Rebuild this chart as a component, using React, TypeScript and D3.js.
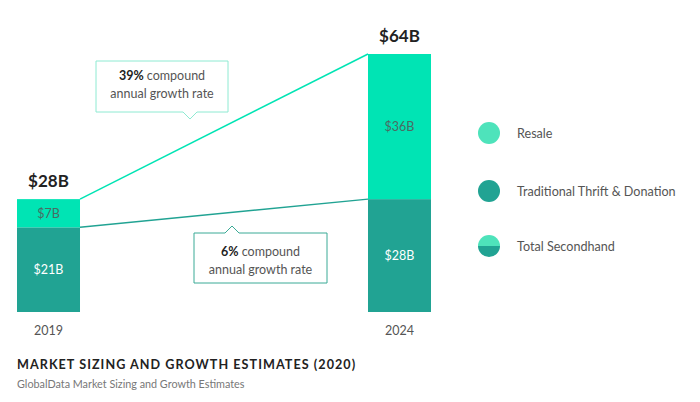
import React from "react";
import * as d3 from "d3";

const years = ["2019", "2024"];
const resale = [7, 36];
const thrift = [21, 28];
const totals = [28, 64];
const totalLabels = ["$28B", "$64B"];
const resaleLabels = ["$7B", "$36B"];
const thriftLabels = ["$21B", "$28B"];
const cagrPct = ["39%", "6%"];
const legendItems = ["Resale", "Traditional Thrift & Donation", "Total Secondhand"];
const title = "MARKET SIZING AND GROWTH ESTIMATES (2020)";
const subtitle = "GlobalData Market Sizing and Growth Estimates";

const W = 700, H = 402;
const C_RES = "#00e4b4";
const C_THR = "#21a393";
const C_RES_L = "#4ee3bb";
const FONT = "Lato, 'Open Sans', sans-serif";

export default function App() {
  const x = d3.scaleBand().domain(years).range([17, 431]).paddingInner(0.8205).paddingOuter(0);
  const y = d3.scaleLinear().domain([0, 64]).range([312, 54]);
  const bw = x.bandwidth();
  const x0 = x(years[0])!, x1 = x(years[1])!;

  const topLine = d3.line<[number, number]>()([[x0 + bw, y(totals[0])], [x1, y(totals[1])]]);
  const midLine = d3.line<[number, number]>()([[x0 + bw, y(thrift[0])], [x1, y(thrift[1])]]);

  const box1 = { x: 96, y: 61, w: 132, h: 51, px: 190 };
  const box2 = { x: 194, y: 233, w: 133, h: 50, px: 232 };
  const calloutPath1 = `M${box1.x},${box1.y}H${box1.x + box1.w}V${box1.y + box1.h}H${box1.px + 7}L${box1.px},${box1.y + box1.h + 7}L${box1.px - 7},${box1.y + box1.h}H${box1.x}Z`;
  const calloutPath2 = `M${box2.x},${box2.y}H${box2.px - 7}L${box2.px},${box2.y - 7}L${box2.px + 7},${box2.y}H${box2.x + box2.w}V${box2.y + box2.h}H${box2.x}Z`;

  const legendY = [133, 191, 246];
  const lx = 489, r = 11;

  return (
    <svg width={W} height={H} style={{ position: "absolute", left: 0, top: 0, display: "block", background: "#fff" }} fontFamily={FONT}>
      <path d={topLine!} stroke={C_RES} strokeWidth={1.5} fill="none" />
      <path d={midLine!} stroke={C_THR} strokeWidth={1.5} fill="none" />
      {years.map((yr, i) => {
        const bx = x(yr)!;
        return (
          <g key={yr}>
            <rect x={bx} y={y(thrift[i])} width={bw} height={y(0) - y(thrift[i])} fill={C_THR} />
            <rect x={bx} y={y(totals[i])} width={bw} height={y(thrift[i]) - y(totals[i])} fill={C_RES} />
            <text x={bx + bw / 2} y={(y(totals[i]) + y(thrift[i])) / 2 + 4.5} textAnchor="middle" fontSize={12.5} fill="#4a6b63">{resaleLabels[i]}</text>
            <text x={bx + bw / 2} y={(y(thrift[i]) + y(0)) / 2 + 4.5} textAnchor="middle" fontSize={12.5} fill="#ffffff">{thriftLabels[i]}</text>
            <text x={bx + bw / 2} y={y(totals[i]) - 12} textAnchor="middle" fontSize={17} fontWeight={700} fill="#222">{totalLabels[i]}</text>
            <text x={bx + bw / 2} y={y(0) + 23} textAnchor="middle" fontSize={12.5} fill="#555">{yr}</text>
          </g>
        );
      })}
      <path d={calloutPath1} fill="#fff" stroke="#8eead2" strokeWidth={1} />
      <text x={box1.x + box1.w / 2} y={80} textAnchor="middle" fontSize={12.5} fill="#555">
        <tspan fontWeight={700} fill="#222">{cagrPct[0]}</tspan> compound
      </text>
      <text x={box1.x + box1.w / 2} y={98} textAnchor="middle" fontSize={12.5} fill="#555">annual growth rate</text>
      <path d={calloutPath2} fill="#fff" stroke="#3aaa96" strokeWidth={1} />
      <text x={box2.x + box2.w / 2} y={256} textAnchor="middle" fontSize={12.5} fill="#555">
        <tspan fontWeight={700} fill="#222">{cagrPct[1]}</tspan> compound
      </text>
      <text x={box2.x + box2.w / 2} y={274} textAnchor="middle" fontSize={12.5} fill="#555">annual growth rate</text>

      <defs>
        <clipPath id="topHalf"><rect x={lx - r} y={legendY[2] - r} width={2 * r} height={r} /></clipPath>
        <clipPath id="botHalf"><rect x={lx - r} y={legendY[2]} width={2 * r} height={r} /></clipPath>
      </defs>
      <circle cx={lx} cy={legendY[0]} r={r} fill={C_RES_L} />
      <circle cx={lx} cy={legendY[1]} r={r} fill={C_THR} />
      <circle cx={lx} cy={legendY[2]} r={r} fill={C_RES_L} clipPath="url(#topHalf)" />
      <circle cx={lx} cy={legendY[2]} r={r} fill={C_THR} clipPath="url(#botHalf)" />
      {legendItems.map((t, i) => (
        <text key={t} x={517} y={legendY[i] + 4.5} fontSize={12.6} fill="#555">{t}</text>
      ))}

      <text x={17} y={369} fontSize={12.6} fontWeight={700} letterSpacing={1.05} fill="#222">{title}</text>
      <text x={17} y={388} fontSize={10.8} fill="#777">{subtitle}</text>
    </svg>
  );
}
